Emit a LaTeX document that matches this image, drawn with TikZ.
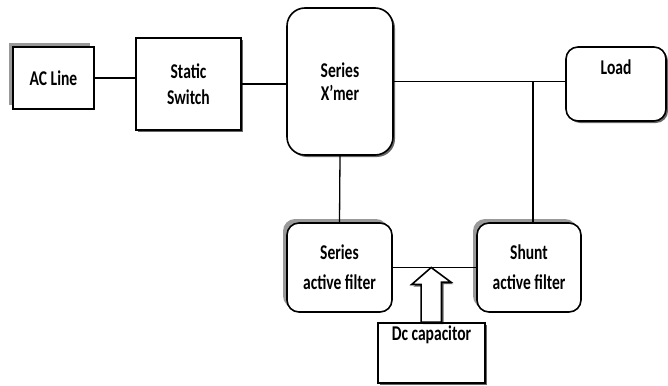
\documentclass[tikz,border=0pt]{standalone}
\usepackage{fontspec}
\setmainfont{Carlito}[FakeStretch=0.74]
\usepackage{tikz}
\usetikzlibrary{shadows,calc}

\begin{document}
\begin{tikzpicture}[x=1pt,y=-1pt,line width=1.3pt]%
        \useasboundingbox (0,0) rectangle (668,385);%%
        \tikzset{box/.style={draw,line width=1.6pt,fill=white,align=center,inner sep=2pt},
                 grayshadow/.style={drop shadow={shadow xshift=-4pt,shadow yshift=4pt,fill=black!40,opacity=1}},
                 darkshadow/.style={drop shadow={shadow xshift=2pt,shadow yshift=-2pt,fill=black,opacity=.6}}}
        \begin{scope}[shape=rectangle]
        \tikzstyle{every node}=[box,font=\fontsize{21}{26}\selectfont\bfseries] %%
        \node[grayshadow,minimum width=81,minimum height=62] (acline) at (53.5,78) {AC Line}; %%
        \node[darkshadow,minimum width=105,minimum height=92] (switch) at (188.5,84) {Static\\Switch}; %%
        \node[darkshadow,minimum width=107,minimum height=60,
              label={[anchor=north,inner sep=3pt,font=\fontsize{21}{26}\selectfont\bfseries]north:Dc capacitor}] (dc) at (431.5,353) {}; %%
        \end{scope}%
        \begin{scope}[shape=rectangle]
        \tikzstyle{every node}=[box,rounded corners=12pt,font=\fontsize{21}{23}\selectfont\bfseries] %%
        \node[darkshadow,rounded corners=18pt,minimum width=106,minimum height=147] (xmer) at (340,81.5) {Series\\X'mer}; %%
        \node[darkshadow,minimum width=100,minimum height=74,
              label={[anchor=north,inner sep=13pt,font=\fontsize{21}{26}\selectfont\bfseries]north:Load}] (load) at (616,84) {}; %%
        \node[grayshadow,minimum width=105,minimum height=89,font=\fontsize{21}{30}\selectfont\bfseries] (sfilter) at (339.5,267.5) {Series\\active filter}; %%
        \node[grayshadow,minimum width=104,minimum height=89,font=\fontsize{21}{30}\selectfont\bfseries] (shfilter) at (529,267.5) {Shunt\\active filter}; %%
        \end{scope}
        \coordinate (j) at ([xshift=4pt]xmer.east -| shfilter.north); %%
        \coordinate (tip) at ($(sfilter.east)!.46!(shfilter.west)$); %%
        \draw (acline.east) -- (acline.east -| switch.west); %%
        \draw (switch.east) -- (switch.east -| xmer.west); %%
        \draw (xmer.east) -- (xmer.east -| load.west); %%
        \draw (j) -- (j |- shfilter.north); %%
        \draw (xmer.south) -- (sfilter.north); %%
        \draw (sfilter.east) -- (shfilter.west); %%
        \draw[fill=white,line width=1.6pt,darkshadow] (tip) -- ++(-19.5,17) -- ++(9.5,0) |- (dc.north) -- ++(10,0) -- ++(0,-40) -- ++(9.5,0) -- cycle; %%
\end{tikzpicture}
\end{document}
